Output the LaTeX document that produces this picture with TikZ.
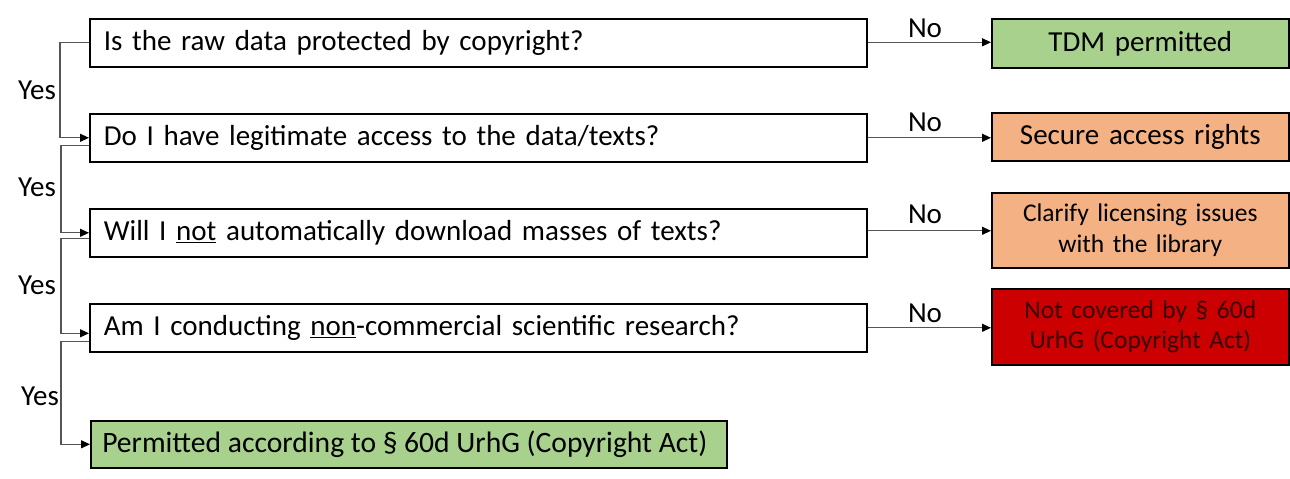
\documentclass[tikz,border=0pt]{standalone}
\usepackage{fontspec}
\setmainfont{Carlito}
\usetikzlibrary{arrows.meta}
\definecolor{okgreen}{HTML}{A9D18E}
\definecolor{warnorange}{HTML}{F4B183}
\definecolor{badred}{HTML}{CC0000}
\definecolor{darkred}{HTML}{3A0000}
\definecolor{conngray}{HTML}{555555}
\tikzset{
  qbox/.style={draw=black, line width=1.6pt, fill=white, anchor=north west,
    text width=749pt, inner xsep=14pt, inner ysep=0pt, minimum height=48pt, align=left,
    font=\fontsize{29}{33}\selectfont},
  okbox/.style={draw=black, line width=1.6pt, fill=okgreen, anchor=north west,
    minimum width=636pt, minimum height=47pt, inner sep=0pt,
    font=\fontsize{29.6}{33}\selectfont},
  rbox/.style={draw=black, line width=1.6pt, anchor=north west,
    text width=287pt, inner xsep=5pt, inner ysep=0pt, align=center,
    font=\fontsize{29}{33}\selectfont},
  rbox2/.style={rbox, font=\fontsize{25.5}{30.5}\selectfont},
  lbl/.style={font=\fontsize{29}{33}\selectfont, inner sep=0pt},
  conn/.style={draw=conngray, line width=1.2pt, -{Triangle[length=9pt,width=8pt,color=black]}},
}
\begin{document}
\begin{tikzpicture}[x=1pt,y=-1pt]
\useasboundingbox (0,0) rectangle (1290,479);
% question boxes
\node[qbox] (q1) at (89,18) {Is the raw data protected by copyright?};
\node[qbox] (q2) at (89,113) {Do I have legitimate access to the data/texts?};
\node[qbox] (q3) at (89,208) {Will I \underline{not} automatically download masses of texts?};
\node[qbox] (q4) at (89,303) {Am I conducting \underline{non}-commercial scientific research?};
\node[okbox] (ok) at (90,420) {\hspace*{-8pt}Permitted according to § 60d UrhG (Copyright Act)};
% result boxes
\node[rbox, fill=okgreen, minimum height=49pt] (r1) at (991,18) {TDM permitted};
\node[rbox, fill=warnorange, minimum height=48pt] (r2) at (991,112) {Secure access rights};
\node[rbox2, fill=warnorange, minimum height=75pt] (r3) at (991,192) {Clarify licensing issues\\with the library};
\node[rbox2, fill=badred, text=darkred, minimum height=76pt] (r4) at (991,288) {Not covered by § 60d\\UrhG (Copyright Act)};
% No connectors
\draw[conn] ([yshift=0.5pt]q1.east) -- ([yshift=0.5pt]q1.east -| r1.west);
\draw[conn] (q2.east) -- (q2.east -| r2.west);
\draw[conn] ([yshift=2pt]q3.east) -- ([yshift=2pt]q3.east -| r3.west);
\draw[conn] (q4.east) -- (q4.east -| r4.west);
\node[lbl] (n1) at (925,28) {No};
\node[lbl] (n2) at (925,122) {No};
\node[lbl] (n3) at (925,214) {No};
\node[lbl] (n4) at (925,313) {No};
% Yes connectors
\draw[conn] (q1.west) -- ++(-29,0) |- (q2.west);
\draw[conn] ([yshift=-7.5pt]q2.west) -- ++(-28,0) |- (q3.west);
\draw[conn] ([yshift=-6pt]q3.west) -- ++(-28,0) |- ([yshift=-5.5pt]q4.west);
\draw[conn] ([yshift=-13.5pt]q4.west) -- ++(-28,0) |- (ok.west);
\node[lbl] (y1) at (37,90) {Yes};
\node[lbl] (y2) at (37,187) {Yes};
\node[lbl] (y3) at (37,285) {Yes};
\node[lbl] (y4) at (40,396) {Yes};
\end{tikzpicture}
\end{document}
